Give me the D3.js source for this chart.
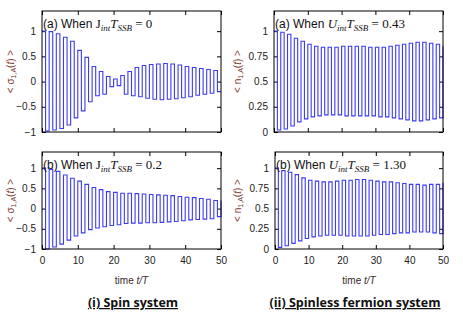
<!DOCTYPE html>
<html>
<head>
<meta charset="utf-8">
<script src="https://cdn.jsdelivr.net/npm/d3@7"></script>
<style>
  body { margin: 0; background: #fff; }
  svg { display: block; }
</style>
</head>
<body>
<div id="chart"></div>
<script>
// time grid t/T = 0..50 (one sample per period)
var times = d3.range(0, 51);

// (i) spin system, <sigma_1,A(t)>
var spinA = [1.00, -0.98, 0.99, -0.96, 0.95, -0.93, 0.88, -0.86, 0.80, -0.72,
             0.62, -0.58, 0.48, -0.40, 0.30, -0.28, 0.20, -0.25, 0.10, -0.10,
             0.05, -0.08, 0.12, -0.25, 0.20, -0.28, 0.28, -0.30, 0.32, -0.33,
             0.34, -0.35, 0.35, -0.36, 0.36, -0.35, 0.35, -0.34, 0.33, -0.32,
             0.30, -0.30, 0.28, -0.27, 0.26, -0.25, 0.24, -0.23, 0.22, -0.20, -0.20];
var spinB = [1.00, -1.00, 0.97, -0.95, 0.92, -0.88, 0.83, -0.78, 0.75, -0.68,
             0.68, -0.60, 0.60, -0.52, 0.52, -0.48, 0.47, -0.45, 0.42, -0.42,
             0.40, -0.40, 0.38, -0.37, 0.38, -0.36, 0.37, -0.36, 0.36, -0.35,
             0.35, -0.35, 0.34, -0.34, 0.33, -0.33, 0.32, -0.32, 0.30, -0.30,
             0.28, -0.28, 0.27, -0.27, 0.25, -0.26, 0.23, -0.25, 0.20, -0.20, 0.20];

// (ii) spinless fermion system, <n_1,A(t)>
var fermA = [1.00, 0.02, 0.99, 0.03, 0.97, 0.06, 0.93, 0.10, 0.90, 0.13,
             0.87, 0.15, 0.85, 0.16, 0.84, 0.17, 0.84, 0.17, 0.84, 0.17,
             0.85, 0.16, 0.85, 0.16, 0.85, 0.16, 0.85, 0.16, 0.84, 0.16,
             0.84, 0.15, 0.84, 0.15, 0.85, 0.14, 0.86, 0.13, 0.87, 0.12,
             0.88, 0.11, 0.89, 0.11, 0.89, 0.12, 0.88, 0.13, 0.87, 0.14, 0.85];
var fermB = [1.00, 0.02, 0.97, 0.04, 0.95, 0.07, 0.92, 0.10, 0.88, 0.13,
             0.85, 0.15, 0.84, 0.16, 0.83, 0.17, 0.83, 0.17, 0.84, 0.17,
             0.85, 0.16, 0.85, 0.16, 0.86, 0.16, 0.86, 0.16, 0.85, 0.17,
             0.84, 0.18, 0.83, 0.18, 0.83, 0.19, 0.82, 0.20, 0.81, 0.20,
             0.80, 0.21, 0.80, 0.21, 0.79, 0.21, 0.80, 0.20, 0.80, 0.19, 0.82];

var xTicks = [0, 10, 20, 30, 40, 50];
var spinTicks = [-1, -0.5, 0, 0.5, 1];
var fermTicks = [0, 0.25, 0.5, 0.75, 1];

var W = 463, H = 327;
var lineColor = "#3b3bf6";
var titleColor = "#7a3a2e";
var sans = "'Liberation Sans', Arial, sans-serif";
var serif = "'Liberation Serif', 'DejaVu Serif', serif";

var svg = d3.select("#chart").append("svg")
  .attr("width", W)
  .attr("height", H)
  .style("background", "#fff");

function drawPanel(p) {
  var x = d3.scaleLinear().domain([0, 50]).range([p.left, p.right]);
  var y = d3.scaleLinear().domain(p.yDomain).range([p.bottom, p.top]);
  var g = svg.append("g");

  // inward ticks on all four sides (gnuplot mirror style)
  g.append("g")
    .attr("transform", "translate(0," + p.bottom + ")")
    .call(d3.axisBottom(x).tickValues(xTicks).tickSizeInner(-4).tickSizeOuter(0)
      .tickFormat(p.xLabels ? d3.format("d") : ""))
    .call(function(a) {
      a.select(".domain").remove();
      a.selectAll("line").attr("stroke", "#000");
      a.selectAll("text").attr("dy", null).attr("y", 15)
        .attr("font-family", sans).attr("font-size", 10).attr("fill", "#222");
    });
  g.append("g")
    .attr("transform", "translate(0," + p.top + ")")
    .call(d3.axisTop(x).tickValues(xTicks).tickSizeInner(-4).tickSizeOuter(0).tickFormat(""))
    .call(function(a) { a.select(".domain").remove(); a.selectAll("line").attr("stroke", "#000"); });
  g.append("g")
    .attr("transform", "translate(" + p.left + ",0)")
    .call(d3.axisLeft(y).tickValues(p.yTicks).tickSizeInner(-4).tickSizeOuter(0)
      .tickFormat(function(d) { return d3.format("")(d); }))
    .call(function(a) {
      a.select(".domain").remove();
      a.selectAll("line").attr("stroke", "#000");
      a.selectAll("text").attr("x", -6)
        .attr("font-family", sans).attr("font-size", 10).attr("fill", "#222");
    });
  g.append("g")
    .attr("transform", "translate(" + p.right + ",0)")
    .call(d3.axisRight(y).tickValues(p.yTicks).tickSizeInner(-4).tickSizeOuter(0).tickFormat(""))
    .call(function(a) { a.select(".domain").remove(); a.selectAll("line").attr("stroke", "#000"); });

  // the curve
  var line = d3.line()
    .x(function(d, i) { return x(times[i]); })
    .y(function(d) { return y(d); })
    .curve(d3.curveStepAfter);
  g.append("path")
    .datum(p.values)
    .attr("d", line)
    .attr("fill", "none")
    .attr("stroke", lineColor)
    .attr("stroke-width", 1.1);

  // frame
  g.append("rect")
    .attr("x", p.left).attr("y", p.top)
    .attr("width", p.right - p.left).attr("height", p.bottom - p.top)
    .attr("fill", "none").attr("stroke", "#000").attr("stroke-width", 1);

  // panel title, e.g. (a) When J_int T_SSB = 0
  var t = g.append("text")
    .attr("x", p.left + 1).attr("y", p.top + 17)
    .attr("font-family", sans).attr("font-size", 12).attr("fill", "#111");
  t.append("tspan").text(p.label + " When ");
  t.append("tspan").attr("font-family", serif).attr("font-style", p.sym === "U" ? "italic" : "normal")
    .attr("font-size", 13).text(p.sym);
  t.append("tspan").attr("font-family", serif).attr("font-style", "italic")
    .attr("font-size", 9).attr("dy", 3).text("int");
  t.append("tspan").attr("font-family", serif).attr("font-style", "italic")
    .attr("font-size", 13).attr("dy", -3).text("T");
  t.append("tspan").attr("font-family", serif).attr("font-style", "italic")
    .attr("font-size", 9).attr("dy", 3).text("SSB");
  t.append("tspan").attr("font-family", serif)
    .attr("font-size", 13).attr("dy", -3).text(" = " + p.value);

  // y axis title, e.g. < sigma_1,A(t) >
  var cy = (p.top + p.bottom) / 2;
  var yt = g.append("text")
    .attr("transform", "translate(" + p.ytX + "," + cy + ") rotate(-90)")
    .attr("text-anchor", "middle")
    .attr("font-family", sans).attr("font-size", 10).attr("fill", titleColor);
  yt.append("tspan").text("< " + p.ySym);
  yt.append("tspan").attr("font-size", 7).attr("dy", 2).text("1,A");
  yt.append("tspan").attr("dy", -2).text("(");
  yt.append("tspan").attr("font-style", "italic").text("t");
  yt.append("tspan").text(") >");

  if (p.xLabels) {
    var xt = g.append("text")
      .attr("x", (p.left + p.right) / 2).attr("y", p.bottom + 35)
      .attr("text-anchor", "middle")
      .attr("font-family", sans).attr("font-size", 10).attr("fill", "#3a2a2a");
    xt.append("tspan").text("time ");
    xt.append("tspan").attr("font-style", "italic").text("t/T");
  }
}

drawPanel({ left: 42, right: 221, top: 11, bottom: 132, yDomain: [-1, 1.4], yTicks: spinTicks,
  values: spinA, label: "(a)", sym: "J", value: "0", ySym: "σ", ytX: 14, xLabels: false });
drawPanel({ left: 42, right: 221, top: 152, bottom: 249, yDomain: [-1, 1.4], yTicks: spinTicks,
  values: spinB, label: "(b)", sym: "J", value: "0.2", ySym: "σ", ytX: 14, xLabels: true });
drawPanel({ left: 274, right: 443, top: 11, bottom: 132, yDomain: [0, 1.2], yTicks: fermTicks,
  values: fermA, label: "(a)", sym: "U", value: "0.43", ySym: "n", ytX: 241, xLabels: false });
drawPanel({ left: 275, right: 443, top: 152, bottom: 249, yDomain: [0, 1.2], yTicks: fermTicks,
  values: fermB, label: "(b)", sym: "U", value: "1.30", ySym: "n", ytX: 241, xLabels: true });

// captions under each column
var captions = [{ text: "(i) Spin system", cx: 133 }, { text: "(ii) Spinless fermion system", cx: 355 }];
svg.selectAll("text.caption")
  .data(captions)
  .enter()
  .append("text")
  .attr("class", "caption")
  .attr("x", function(d) { return d.cx; })
  .attr("y", 307)
  .attr("text-anchor", "middle")
  .attr("font-family", "'Open Sans', 'Liberation Sans', sans-serif")
  .attr("font-weight", "bold")
  .attr("font-size", 12.5)
  .attr("text-decoration", "underline")
  .attr("fill", "#111")
  .text(function(d) { return d.text; });
</script>
</body>
</html>
